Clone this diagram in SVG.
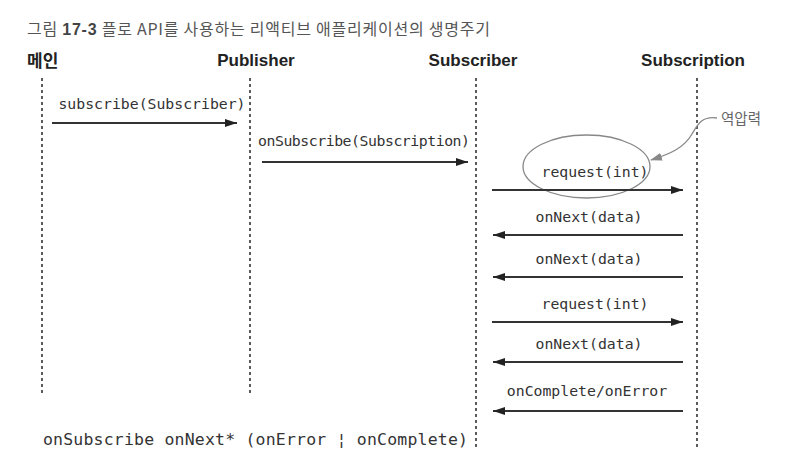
<svg xmlns="http://www.w3.org/2000/svg" width="806" height="458" viewBox="0 0 806 458">
<style>
.bg{fill:#ffffff}
.title{font-family:"Noto Sans CJK KR","Liberation Sans",sans-serif;font-size:16px;fill:#555555}
.head{font-family:"Liberation Sans","Noto Sans CJK KR",sans-serif;font-size:17px;font-weight:bold;fill:#222222}
.headkr{font-family:"Noto Sans CJK KR",sans-serif;font-size:17px;font-weight:bold;fill:#222222}
.life{stroke:#333333;stroke-width:1.6;stroke-dasharray:3 3;fill:none}
.msg{stroke:#333333;stroke-width:1.8;fill:none}
.lbl{font-family:"DejaVu Sans Mono","Liberation Mono",monospace;font-size:14.8px;fill:#333333}
.note{font-family:"Noto Sans CJK KR",sans-serif;font-size:14.5px;fill:#666666}
.gray{stroke:#888888;stroke-width:1.3;fill:none}
</style>
<defs>
<marker id="ah" viewBox="0 0 12 8" refX="12" refY="4" markerWidth="12" markerHeight="8" markerUnits="userSpaceOnUse" orient="auto">
<path d="M0,0 L12,4 L0,8 Z" fill="#222222"/>
</marker>
<marker id="ahg" viewBox="0 0 12 8" refX="11" refY="4" markerWidth="12" markerHeight="8" markerUnits="userSpaceOnUse" orient="auto">
<path d="M0,0 L12,4 L0,8 Z" fill="#888888"/>
</marker>
</defs>
<rect class="bg" x="0" y="0" width="806" height="458"/>
<text class="title" x="27" y="35" textLength="463">그림 <tspan font-weight="bold" font-family="Liberation Sans, sans-serif" fill="#444">17-3</tspan> 플로 API를 사용하는 리액티브 애플리케이션의 생명주기</text>

<g id="main">
<text class="headkr" x="27" y="67">메인</text>
<line class="life" x1="42" y1="78" x2="42" y2="393"/>
</g>
<g id="publisher">
<text class="head" x="256" y="66" text-anchor="middle">Publisher</text>
<line class="life" x1="250" y1="78" x2="250" y2="393"/>
</g>
<g id="subscriber">
<text class="head" x="473" y="66" text-anchor="middle">Subscriber</text>
<line class="life" x1="476" y1="78" x2="476" y2="449"/>
</g>
<g id="subscription">
<text class="head" x="693" y="66" text-anchor="middle">Subscription</text>
<line class="life" x1="697" y1="78" x2="697" y2="449"/>
</g>

<g id="backpressure">
<ellipse class="gray" cx="586.5" cy="166.5" rx="63.5" ry="31.5"/>
<path class="gray" d="M717,118 C702,116 698,124 692,134 C684,148 670,154 651,160" marker-end="url(#ahg)"/>
<text class="note" x="721" y="124">역압력</text>
</g>

<g id="connectors">
<line class="msg" x1="52" y1="123" x2="237" y2="123" marker-end="url(#ah)"/>
<text class="lbl" x="152" y="109" text-anchor="middle">subscribe(Subscriber)</text>
<line class="msg" x1="262" y1="162" x2="468" y2="162" marker-end="url(#ah)"/>
<text class="lbl" x="364" y="146" text-anchor="middle" textLength="212">onSubscribe(Subscription)</text>
<line class="msg" x1="492" y1="190" x2="683" y2="190" marker-end="url(#ah)"/>
<text class="lbl" x="595" y="177" text-anchor="middle">request(int)</text>
<line class="msg" x1="683" y1="235" x2="493" y2="235" marker-end="url(#ah)"/>
<text class="lbl" x="589" y="222" text-anchor="middle">onNext(data)</text>
<line class="msg" x1="683" y1="277" x2="493" y2="277" marker-end="url(#ah)"/>
<text class="lbl" x="589" y="264" text-anchor="middle">onNext(data)</text>
<line class="msg" x1="492" y1="322" x2="683" y2="322" marker-end="url(#ah)"/>
<text class="lbl" x="595" y="309" text-anchor="middle">request(int)</text>
<line class="msg" x1="683" y1="362" x2="493" y2="362" marker-end="url(#ah)"/>
<text class="lbl" x="589" y="349" text-anchor="middle">onNext(data)</text>
<line class="msg" x1="683" y1="411" x2="493" y2="411" marker-end="url(#ah)"/>
<text class="lbl" x="587" y="396" text-anchor="middle">onComplete/onError</text>
</g>

<text class="lbl" x="43" y="445" style="font-size:16.5px" textLength="425">onSubscribe onNext* (onError ¦ onComplete)</text>
</svg>
